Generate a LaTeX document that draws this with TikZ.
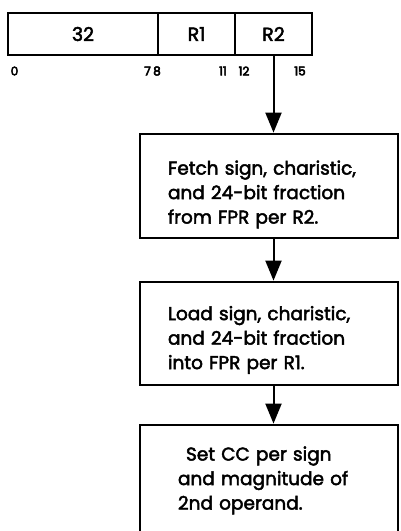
\documentclass[tikz,border=0pt]{standalone}
\usepackage{fontspec}
\setmainfont{Poppins}[RawFeature={embolden=2.5}]
\newfontfamily\bitfont{Poppins}[RawFeature={embolden=4.5}]
\usetikzlibrary{arrows.meta}
\begin{document}
\begin{tikzpicture}[x=1pt,y=-1pt,
  regfield/.style={draw,line width=2.2pt,minimum height=42pt,inner sep=0pt,font=\fontsize{19}{19}\selectfont},
  bitno/.style={inner sep=0pt,font=\bitfont\fontsize{12}{12}\selectfont},
  stepbox/.style={draw,line width=2.8pt,minimum width=258pt,inner xsep=28pt,inner ysep=0pt,
    text width=202pt,font=\fontsize{18.5}{24.5}\selectfont,align=left},
  flow/.style={line width=2pt,-{Triangle[width=16pt,length=20pt]}}]
\useasboundingbox (0,0) rectangle (401,531);
\clip (0,0) rectangle (401,531);
% instruction format
\node[regfield,minimum width=150pt] (f32) at (83,34) {32};
\node[regfield,minimum width=77pt] (fr1) at (196.5,34) {R1};
\node[regfield,minimum width=77pt] (fr2) at (273.5,34) {R2};
% bit positions
\node[bitno] (b0) at (14.5,71) {0};
\node[bitno] (b7) at (147.5,71) {7};
\node[bitno] (b8) at (157,71) {8};
\node[bitno] (b11) at (223,71) {11};
\node[bitno] (b12) at (244,71) {12};
\node[bitno] (b15) at (300,71) {15};
% processing steps
\node[stepbox,minimum height=104pt] (s1) at (269,186) {%
  \rule{0pt}{31pt}Fetch sign, charistic,\\and 24-bit fraction\\from FPR per R2.};
\node[stepbox,minimum height=103pt] (s2) at (269,333.5) {%
  \rule{0pt}{27pt}Load sign, charistic,\\and 24-bit fraction\\into FPR per R1.};
\node[stepbox,minimum height=130pt] (s3) at (269,490) {%
  \hspace*{18pt}Set CC per sign\\\hspace*{10pt}and magnitude of\\\hspace*{10pt}2nd operand.\rule[-24pt]{0pt}{1pt}};
\draw[flow] (fr2.south) -- (fr2.south |- s1.north);
\draw[flow] (s1.south -| fr2.south) -- (s2.north -| fr2.south);
\draw[flow] (s2.south -| fr2.south) -- (s3.north -| fr2.south);
\end{tikzpicture}
\end{document}
